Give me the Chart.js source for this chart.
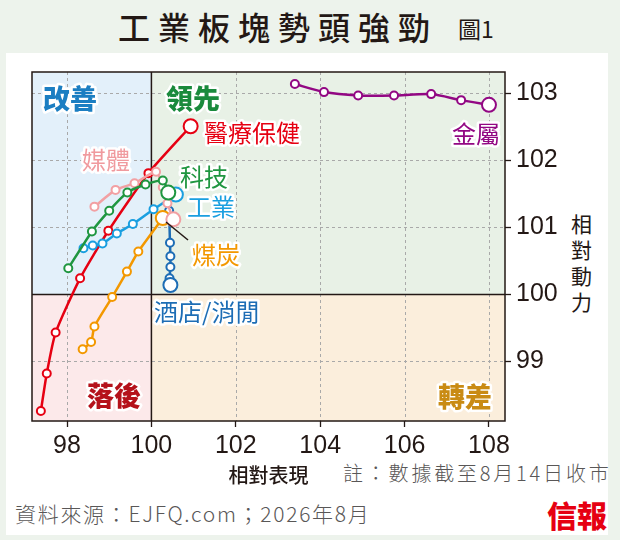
<!DOCTYPE html>
<html>
<head>
<meta charset="utf-8">
<script src="https://cdn.jsdelivr.net/npm/chart.js@4.4.0/dist/chart.umd.min.js"></script>
<style>
  body { margin: 0; width: 620px; height: 540px; background: #edf3ec; position: relative; overflow: hidden;
         font-family: "Noto Sans CJK TC", sans-serif; }
  #panel { position: absolute; left: 6px; top: 53px; width: 602px; height: 482px; background: #fff; }
  #wrap { position: absolute; left: 0; top: 0; width: 620px; height: 540px; }
  .t { position: absolute; white-space: nowrap; line-height: 1; }
</style>
</head>
<body>
<div id="panel"></div>
<div class="t" style="left:118px;top:10px;font-size:32px;letter-spacing:8px;color:#231815;font-weight:500">工業板塊勢頭強勁</div>
<div class="t" style="left:458px;top:17px;font-size:23px;color:#231815;font-weight:400">圖1</div>
<div class="t" style="left:571px;top:210px;font-size:21px;line-height:26px;color:#231815;text-align:center">相<br>對<br>動<br>力</div>
<div class="t" style="left:343px;top:463px;font-size:20px;letter-spacing:2.8px;color:#595757;font-weight:300">註：數據截至8月14日收市</div>
<div class="t" style="left:15px;top:503px;font-size:21px;letter-spacing:1.7px;color:#595757;font-weight:300">資料來源：EJFQ.com；2026年8月</div>
<div class="t" style="left:547px;top:499px;font-size:30px;color:#e60012;font-weight:900">信報</div>
<div id="wrap"><canvas id="c" width="620" height="540"></canvas></div>
<script>
// tick labels
const xTicks = [98, 100, 102, 104, 106, 108];
const yTicks = [99, 100, 101, 102, 103];

// series (x = 相對表現, y = 相對動力)
const techX = [98.03, 98.59, 99.0, 99.43, 99.86, 100.27, 100.40];
const techY = [100.39, 100.94, 101.25, 101.52, 101.64, 101.70, 101.52];
const mediaX = [98.65, 99.15, 99.60, 100.11, 100.27, 100.38, 100.52];
const mediaY = [101.31, 101.56, 101.66, 101.83, 101.60, 101.36, 101.12];
const coalX = [98.37, 98.57, 98.65, 99.07, 99.42, 99.69, 100.27];
const coalY = [99.18, 99.29, 99.52, 99.96, 100.34, 100.64, 101.14];
const indX = [98.39, 98.61, 98.84, 99.18, 99.56, 100.05, 100.58];
const indY = [100.69, 100.73, 100.76, 100.91, 101.05, 101.27, 101.49];
const hotelX = [100.42, 100.44, 100.45, 100.45, 100.43, 100.45];
const hotelY = [101.25, 100.77, 100.57, 100.41, 100.24, 100.14];
const healthX = [97.38, 97.52, 97.73, 98.31, 98.98, 99.93, 100.93];
const healthY = [98.26, 98.82, 99.43, 100.24, 100.95, 101.81, 102.51];
const metalX = [103.40, 104.09, 104.90, 105.75, 106.63, 107.34, 108.0];
const metalY = [103.14, 103.02, 102.97, 102.97, 102.99, 102.90, 102.83];

const seriesNames = ['科技', '媒體', '煤炭', '工業', '酒店/消閒', '醫療保健', '金屬'];
const quadNames = ['改善', '領先', '落後', '轉差'];

const colors = ['#1f9640', '#f2a0a3', '#f39800', '#1a9fe0', '#1d6db5', '#e60012', '#920783'];
const labelColors = ['#1f9640', '#f09a9e', '#f39800', '#1a9fe0', '#1d6db5', '#e60012', '#920783'];
const xs = [techX, mediaX, coalX, indX, hotelX, healthX, metalX];
const ys = [techY, mediaY, coalY, indY, hotelY, healthY, metalY];

const datasets = seriesNames.map((name, i) => ({
  label: name,
  data: xs[i].map((x, j) => ({ x: x, y: ys[i][j] })),
  borderColor: colors[i],
  borderWidth: 2.5,
  pointBackgroundColor: '#fff',
  pointBorderColor: colors[i],
  pointBorderWidth: 2,
  pointRadius: xs[i].map((x, j) => j === xs[i].length - 1 ? 7 : 4),
  tension: 0.2
}));

// label placement (pixels)
const nameSpots = [
  [180, 177], [82, 160], [192, 255], [187, 207], [154, 312], [204, 133], [452, 134]
];
const quadSpots = [[43, 99], [166, 99], [87, 396], [438, 397]];
const quadColors = ['#1b7ec2', '#1a8a3c', '#b5121b', '#c98b14'];

const quadrants = {
  id: 'quadrants',
  beforeDraw(chart) {
    const {ctx, chartArea: a, scales: {x, y}} = chart;
    const cx = x.getPixelForValue(100), cy = y.getPixelForValue(100);
    ctx.save();
    ctx.fillStyle = '#e3f0fa'; ctx.fillRect(a.left, a.top, cx - a.left, cy - a.top);
    ctx.fillStyle = '#e8f1e6'; ctx.fillRect(cx, a.top, a.right - cx, cy - a.top);
    ctx.fillStyle = '#fce9ea'; ctx.fillRect(a.left, cy, cx - a.left, a.bottom - cy);
    ctx.fillStyle = '#fbeedc'; ctx.fillRect(cx, cy, a.right - cx, a.bottom - cy);
    // dashed grid
    ctx.strokeStyle = '#a9a9a9';
    ctx.lineWidth = 1;
    ctx.setLineDash([3, 3]);
    ctx.beginPath();
    xTicks.forEach(v => { const p = Math.round(x.getPixelForValue(v)) + 0.5; ctx.moveTo(p, a.top); ctx.lineTo(p, a.bottom); });
    yTicks.forEach(v => { const p = Math.round(y.getPixelForValue(v)) + 0.5; ctx.moveTo(a.left, p); ctx.lineTo(a.right, p); });
    ctx.stroke();
    ctx.restore();
  },
  beforeDatasetsDraw(chart) {
    const {ctx, chartArea: a, scales: {x, y}} = chart;
    const cx = x.getPixelForValue(100), cy = y.getPixelForValue(100);
    ctx.save();
    ctx.strokeStyle = '#231815';
    ctx.lineWidth = 1.5;
    ctx.strokeRect(a.left, a.top, a.right - a.left, a.bottom - a.top);
    ctx.beginPath();
    ctx.moveTo(cx, a.top); ctx.lineTo(cx, a.bottom);
    ctx.moveTo(a.left, cy); ctx.lineTo(a.right, cy);
    ctx.stroke();
    ctx.restore();
  },
  afterDatasetsDraw(chart) {
    const {ctx} = chart;
    ctx.save();
    // leader line to 煤炭
    ctx.strokeStyle = '#231815';
    ctx.lineWidth = 1.5;
    ctx.beginPath(); ctx.moveTo(166, 222); ctx.lineTo(188, 240); ctx.stroke();
    ctx.textBaseline = 'middle';
    ctx.textAlign = 'left';
    ctx.lineJoin = 'round';
    const put = (txt, px, py, color, font) => {
      ctx.font = font;
      ctx.strokeStyle = '#fff';
      ctx.lineWidth = 5;
      ctx.strokeText(txt, px, py);
      ctx.fillStyle = color;
      ctx.fillText(txt, px, py);
    };
    seriesNames.forEach((n, i) => put(n, nameSpots[i][0], nameSpots[i][1], labelColors[i], '400 24px "Noto Sans CJK TC"'));
    quadNames.forEach((n, i) => put(n, quadSpots[i][0], quadSpots[i][1], quadColors[i], '900 27px "Noto Sans CJK TC"'));
    ctx.restore();
  }
};

const tickFont = { family: '"Liberation Sans Narrow", "Liberation Sans", sans-serif', size: 25 };

new Chart(document.getElementById('c'), {
  type: 'line',
  data: { datasets: datasets },
  plugins: [quadrants],
  options: {
    responsive: false,
    animation: false,
    layout: { padding: { left: 32, top: 72, right: 45, bottom: 49 } },
    plugins: { legend: { display: false }, tooltip: { enabled: false } },
    scales: {
      x: {
        type: 'linear',
        min: 97.17, max: 108.38,
        afterBuildTicks: s => { s.ticks = xTicks.map(v => ({ value: v })); },
        afterFit: s => { s.height = 70; },
        grid: { drawOnChartArea: false, drawTicks: true, tickLength: 6, tickColor: '#231815', tickWidth: 1.3 },
        border: { display: false },
        ticks: { color: '#231815', font: tickFont, padding: 4, maxRotation: 0 },
        title: { display: true, text: '相對表現', color: '#231815', font: { family: '"Noto Sans CJK TC"', size: 20, weight: '500' }, padding: { top: 0 } }
      },
      y: {
        type: 'linear',
        position: 'right',
        min: 98.11, max: 103.32,
        afterBuildTicks: s => { s.ticks = yTicks.map(v => ({ value: v })); },
        afterFit: s => { s.width = 70; },
        grid: { drawOnChartArea: false, drawTicks: true, tickLength: 6, tickColor: '#231815', tickWidth: 1.3 },
        border: { display: false },
        ticks: { color: '#231815', font: tickFont, padding: 5 }
      }
    }
  }
});
</script>
</body>
</html>
